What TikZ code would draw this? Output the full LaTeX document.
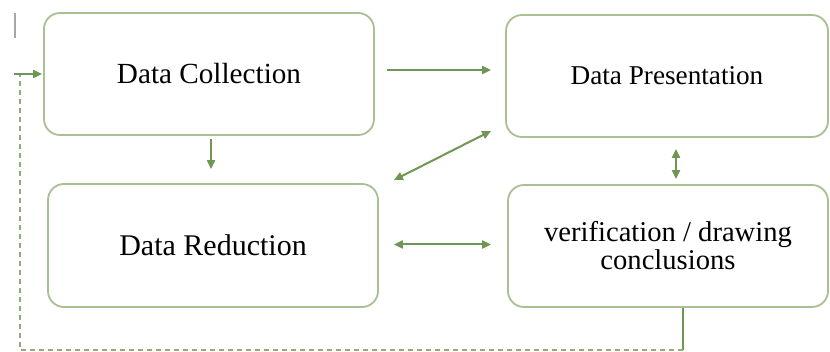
\documentclass[tikz,border=0pt]{standalone}
\usepackage{fontspec}
\setmainfont{Liberation Serif}
\usetikzlibrary{arrows.meta}
\definecolor{boxline}{RGB}{168,192,146}
\definecolor{arrgreen}{RGB}{112,150,84}
\definecolor{dashgreen}{RGB}{150,170,125}
\tikzset{
  stagebox/.style={draw=boxline, line width=0.9pt, rounded corners=8pt, align=center,
    inner sep=0pt, text=black},
  arr/.style={draw=arrgreen, line width=1pt, -{Triangle[length=4.5pt,width=4pt]}},
  darr/.style={draw=arrgreen, line width=1pt, {Triangle[length=4.5pt,width=4pt]}-{Triangle[length=4.5pt,width=4pt]}},
  fbline/.style={draw=dashgreen, line width=0.9pt, dash pattern=on 2.5pt off 2pt},
}
\begin{document}
\begin{tikzpicture}[x=0.5pt, y=-0.5pt]
\useasboundingbox (0,0) rectangle (830,352);
\node[stagebox, minimum width=165pt, minimum height=61pt, font=\fontsize{14.6}{17}\selectfont] (dc) at (209,74) {Data Collection};
\node[stagebox, minimum width=161pt, minimum height=61pt, font=\fontsize{13.6}{16}\selectfont] (dp) at (667,76) {Data Presentation};
\node[stagebox, minimum width=165pt, minimum height=61.5pt, font=\fontsize{15}{17}\selectfont] (dr) at (213,245.5) {Data Reduction};
\node[stagebox, minimum width=160pt, minimum height=61pt, font=\fontsize{14.3}{12.5}\selectfont] (vc) at (668,246) {verification / drawing\\conclusions};
% connectors
\draw[arr, shorten <=6pt, shorten >=7pt] ([yshift=2pt]dc.east) -- ([yshift=2pt]dc.east -| dp.west);
\draw[arr, shorten <=1.5pt, shorten >=7pt] ([xshift=1pt]dc.south) -- ([xshift=1pt]dc.south |- dr.north);
\draw[darr] ([xshift=-7pt,yshift=3.5pt]dp.south west) -- ([xshift=7.5pt,yshift=1.5pt]dr.north east);
\draw[darr, shorten <=5.5pt, shorten >=2.5pt] ([xshift=4.5pt]dp.south) -- ([xshift=4.5pt]dp.south |- vc.north);
\draw[darr, shorten <=7.5pt, shorten >=8pt] ([yshift=0.5pt]dr.east) -- ([yshift=0.5pt]dr.east -| vc.west);
% feedback loop
\coordinate (fbA) at (683,350);
\coordinate (fbB) at (20,350);
\coordinate (fbC) at (14,74);
\draw[draw=arrgreen, line width=1pt] ([xshift=7.5pt]vc.south) -- (fbA);
\draw[fbline] (fbA) -- (fbB) -- (fbB |- fbC);
\draw[arr, shorten >=0.5pt] (fbC) -- (fbC -| dc.west);
% stray tick
\coordinate (tk1) at (15,13);
\coordinate (tk2) at (15,38);
\draw[gray!70, line width=0.6pt] (tk1) -- (tk2);
\end{tikzpicture}
\end{document}
